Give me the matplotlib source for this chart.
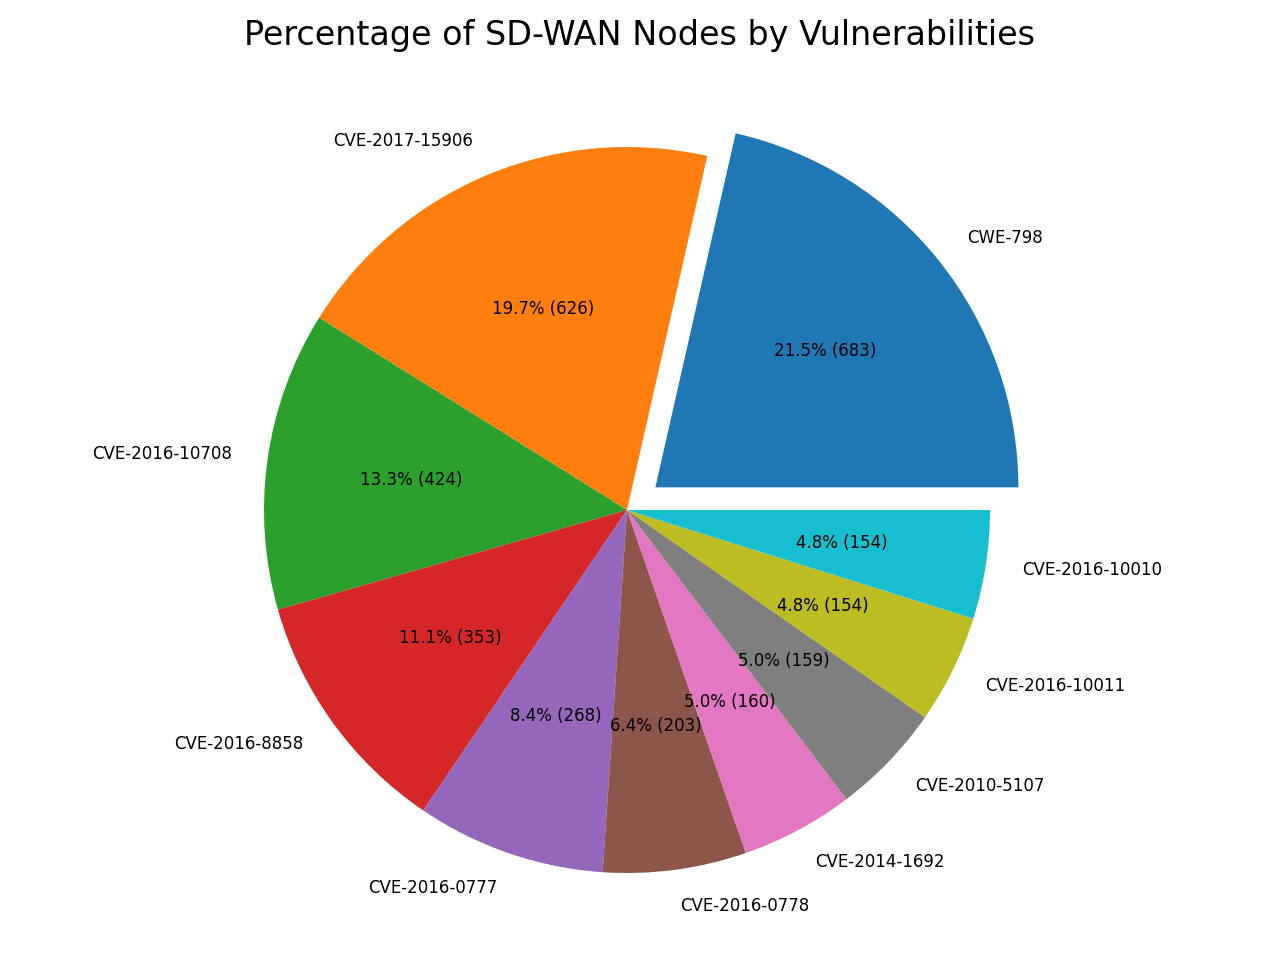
import matplotlib
matplotlib.use('Agg')
import matplotlib.pyplot as plt

labels = ['CWE-798', 'CVE-2017-15906', 'CVE-2016-10708', 'CVE-2016-8858', 'CVE-2016-0777',
          'CVE-2016-0778', 'CVE-2014-1692', 'CVE-2010-5107', 'CVE-2016-10011', 'CVE-2016-10010']
counts = [683, 626, 424, 353, 268, 203, 160, 159, 154, 154]
explode = [0.1, 0, 0, 0, 0, 0, 0, 0, 0, 0]

total = sum(counts)


def fmt(pct):
    return '%.1f%% (%d)' % (pct, round(pct * total / 100.0))


plt.rcParams['font.size'] = 12
fig = plt.figure(figsize=(12.8, 9.6), dpi=100)
ax = fig.add_axes([0, 0, 1, 0.9427])
ax.pie(counts, labels=labels, explode=explode, autopct=fmt)
ax.set_aspect('auto')
# pie centre at (627, 510) px, radius 363 px
r = 363.0
ax.set_xlim(-627 / r, 653 / r)
ax.set_ylim(-450 / r, 455 / r)
ax.set_title('Percentage of SD-WAN Nodes by Vulnerabilities', fontsize=24, pad=7.2)
fig.savefig('out.png', dpi=100)
